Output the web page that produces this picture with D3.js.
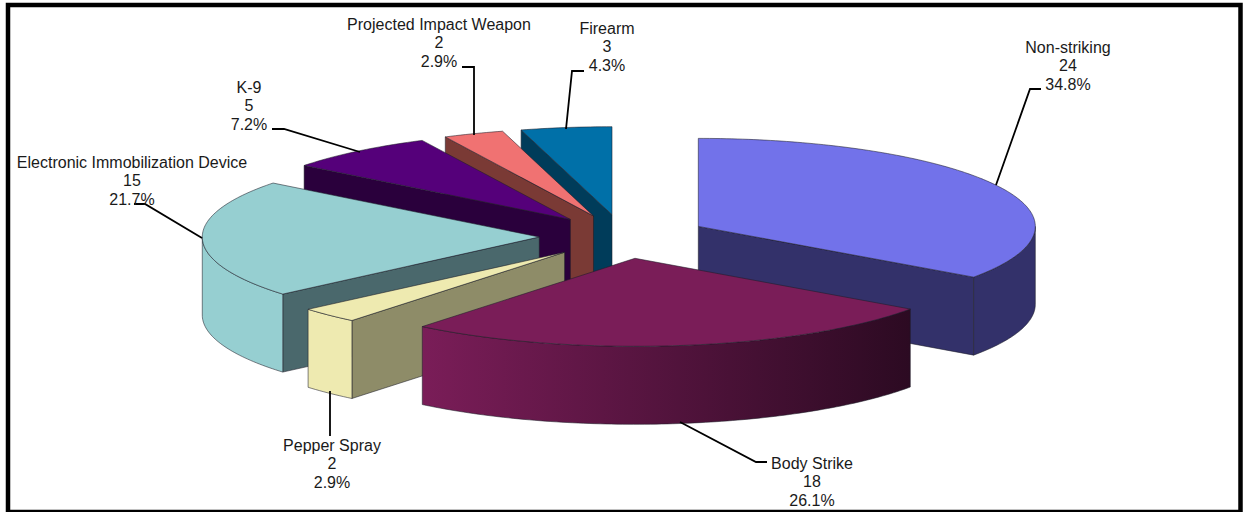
<!DOCTYPE html>
<html><head><meta charset="utf-8">
<script src="https://cdn.jsdelivr.net/npm/d3@7/dist/d3.min.js"></script>
<style>html,body{margin:0;padding:0;background:#fff}svg{display:block}text{font-family:"Liberation Sans",Arial,sans-serif;font-size:16px;fill:#1a1a1a}</style>
</head><body><svg id="c" width="1244" height="512"></svg>
<script>
const categories=["Non-striking","Body Strike","Pepper Spray","Electronic Immobilization Device","K-9","Projected Impact Weapon","Firearm"];
const counts=[24,18,2,15,5,2,3];
const percents=["34.8%","26.1%","2.9%","21.7%","7.2%","2.9%","4.3%"];
const topColors=["#7272ea","#7a1d58","#eeeab0","#96cfd1","#55007a","#f07272","#0070a8"];
const cutColors=["#33316a","#33102a","#8e8c68","#4a686c","#2a003c","#7a3a35","#003c5a"];
const rimLeft=["#33316a","#7a1d58","#eeeab0","#96cfd1","#2a003c","#7a3a35","#003c5a"];
const rimRight=["#33316a","#2c0a22","#eeeab0","#96cfd1","#2a003c","#7a3a35","#003c5a"];
const drawOrder=[6,5,4,3,2,0,1];
// label layout: centre x, first line centre y, leader polyline
const labelX=[1068,812,332,132,249,439,607];
const labelY=[47,463,445,162,87,24,28];
const leaders=[[[1041,89],[1030,89],[996,185]],[[680,422],[756,462],[767,462]],[[330,391],[330,436]],[[134,204],[145,204],[202,238]],[[272,129],[284,129],[360,152]],[[462,67],[474,67],[474,135]],[[584,71],[572,71],[566,129]]];

const explode=0.25, depth=78, lineH=18.6;
const sx=d3.scaleLinear().domain([-1,1]).range([623.5-337,623.5+337]);
const sy=d3.scaleLinear().domain([-1,1]).range([236.5-88,236.5+88]);
const svg=d3.select("#c");
const defs=svg.append("defs");
const pie=d3.pie().sort(null).startAngle(0).endAngle(2*Math.PI)(counts);
const line=d3.line();
const pt=(u,v,dy=0)=>[sx(u),sy(v)+dy];

svg.append("rect").attr("x",8).attr("y",5).attr("width",1232.5).attr("height",507)
  .attr("fill","#fff").attr("stroke","#000").attr("stroke-width",4.5);

const stroke="rgba(30,30,40,.55)";
drawOrder.forEach(i=>{
  const p=pie[i],a0=p.startAngle,a1=p.endAngle,mid=(a0+a1)/2;
  const ox=explode*Math.sin(mid),oy=-explode*Math.cos(mid);
  const onRim=a=>pt(ox+Math.sin(a),oy-Math.cos(a));
  const apex=pt(ox,oy);
  const g=svg.append("g");
  const down=q=>[q[0],q[1]+depth];
  const face=(edge,fill)=>g.append("path")
    .attr("d",line([apex,edge,down(edge),down(apex)])+"Z")
    .attr("fill",fill).attr("stroke",stroke).attr("stroke-width",1);
  if(Math.sin(a1)>0.001) face(onRim(a1),cutColors[i]);
  if(Math.sin(a0)<-0.001) face(onRim(a0),cutColors[i]);
  // outer rim
  const r0=Math.max(a0,Math.PI/2),r1=Math.min(a1,3*Math.PI/2);
  if(r1>r0){
    const n=Math.ceil((r1-r0)*60);
    const arc=d3.range(n+1).map(k=>onRim(r0+(r1-r0)*k/n));
    const id="rim"+i;
    const xs=arc.map(q=>q[0]);
    const gr=defs.append("linearGradient").attr("id",id).attr("gradientUnits","userSpaceOnUse")
      .attr("x1",d3.min(xs)).attr("x2",d3.max(xs)).attr("y1",0).attr("y2",0);
    gr.append("stop").attr("offset",0).attr("stop-color",rimLeft[i]);
    gr.append("stop").attr("offset",1).attr("stop-color",rimRight[i]);
    g.append("path").attr("d",line(arc.concat(arc.slice().reverse().map(down)))+"Z")
      .attr("fill",`url(#${id})`).attr("stroke",stroke).attr("stroke-width",1);
  }
  // top
  const n=Math.ceil((a1-a0)*60);
  const topArc=d3.range(n+1).map(k=>onRim(a0+(a1-a0)*k/n));
  g.append("path").attr("d",line([apex,...topArc])+"Z")
    .attr("fill",topColors[i]).attr("stroke",stroke).attr("stroke-width",1);
});

leaders.forEach(l=>svg.append("path").attr("d",line(l)).attr("fill","none").attr("stroke","#000").attr("stroke-width",1.8));

categories.forEach((c,i)=>{
  [c,counts[i],percents[i]].forEach((s,k)=>{
    svg.append("text").attr("x",labelX[i]).attr("y",labelY[i]+k*lineH+5.5)
      .attr("text-anchor","middle").text(s);
  });
});
</script></body></html>
